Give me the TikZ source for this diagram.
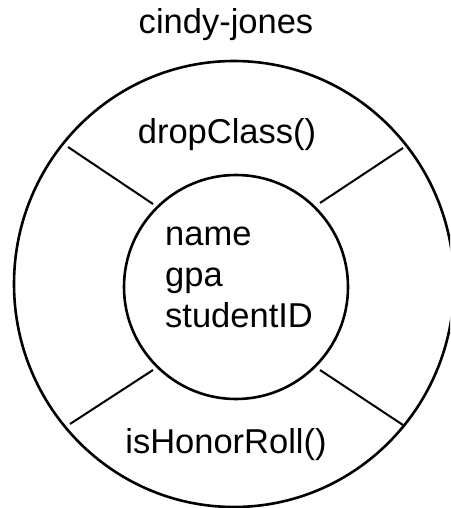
\documentclass[tikz,border=0pt]{standalone}
\usepackage{fontspec}
\setmainfont{Liberation Sans}
\usetikzlibrary{shapes.geometric}
\begin{document}
\begin{tikzpicture}[x=1pt,y=-1pt,
  ring/.style={ellipse,draw=black,line width=2.6pt,inner sep=0pt},
  spoke/.style={draw=black,line width=2pt},
  lbl/.style={font=\fontsize{34.5}{40}\selectfont,inner sep=0pt,anchor=base}]
\useasboundingbox (0,0) rectangle (450,508);
\clip (0,0) rectangle (450,508);
\fill[white] (0,0) rectangle (450,508);
\node[ring,minimum width=440pt,minimum height=446pt] (outer) at (234,284) {};
\node[ring,minimum width=224pt,minimum height=224pt] (inner) at (236,287) {};
\coordinate (ulo) at (68,147);  \coordinate (uli) at (153,204);
\coordinate (uro) at (403,148); \coordinate (uri) at (320,203);
\coordinate (llo) at (70,424);  \coordinate (lli) at (153,370);
\coordinate (lro) at (403,425); \coordinate (lri) at (320,370);
\draw[spoke] (ulo) -- (uli);
\draw[spoke] (uro) -- (uri);
\draw[spoke] (llo) -- (lli);
\draw[spoke] (lro) -- (lri);
\node[lbl] (title) at (226,34) {cindy-jones};
\node[lbl] (drop) at (227,143) {dropClass()};
\node[lbl] (honor) at (226,453) {isHonorRoll()};
\node[lbl,anchor=base west] (name) at (165,245) {name};
\node[lbl,anchor=base west] (gpa) at (165,286) {gpa};
\node[lbl,anchor=base west] (sid) at (165,327) {studentID};
\end{tikzpicture}
\end{document}
